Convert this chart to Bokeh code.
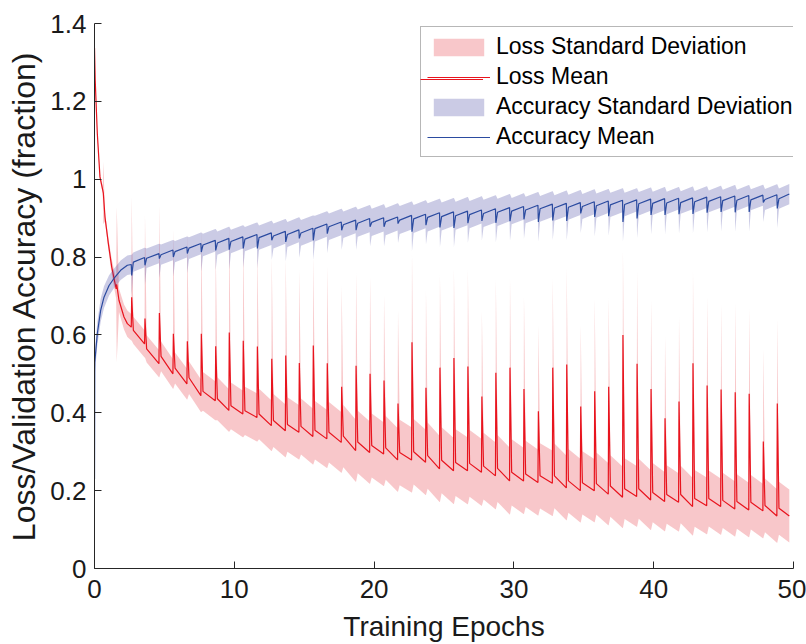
from bokeh.plotting import figure
from bokeh.models import Range1d, FixedTicker, Legend, LegendItem, ColumnDataSource
from bokeh.embed import file_html
from bokeh.resources import INLINE

# ---------------- data ----------------
# epoch positions of the periodic spikes (start of each new pass)
spike_x = [2.66, 3.61, 4.64, 5.64, 6.64, 7.64, 8.67, 9.64, 10.64, 11.65,
           12.68, 13.68, 14.65, 15.65, 16.65, 17.68, 18.71, 19.71, 20.71, 21.71,
           22.71, 23.71, 24.71, 25.71, 26.71, 27.71, 28.71, 29.72, 30.72, 31.75,
           32.78, 33.78, 34.78, 35.78, 36.78, 37.80, 38.81, 39.81, 40.81, 41.81,
           42.81, 43.82, 44.82, 45.83, 46.83, 47.84, 48.84]
end_x = 49.7

# loss: initial descent
loss_early_x = [0.0, 0.05, 0.2, 0.39, 0.59, 0.63, 0.75, 0.99, 1.23, 1.55, 1.59, 1.75, 2.11, 2.35]
loss_early_y = [1.337, 1.255, 1.118, 1.006, 0.972, 0.965, 0.903, 0.835, 0.775, 0.718, 0.73, 0.689, 0.646, 0.629]
loss_early_std = [0.004, 0.005, 0.006, 0.008, 0.01, 0.08, 0.012, 0.015, 0.02, 0.025, 0.2, 0.03, 0.032, 0.034]
# loss: level just before each spike, spike peak, level just after spike
loss_pre = [0.620, 0.577, 0.526, 0.500, 0.474, 0.444, 0.431, 0.406, 0.397, 0.388,
            0.367, 0.354, 0.350, 0.339, 0.333, 0.324, 0.303, 0.298, 0.294, 0.279,
            0.279, 0.273, 0.256, 0.251, 0.251, 0.247, 0.238, 0.225, 0.225, 0.221,
            0.219, 0.207, 0.200, 0.200, 0.191, 0.183, 0.185, 0.176, 0.172, 0.170,
            0.159, 0.161, 0.159, 0.153, 0.150, 0.148, 0.135]
loss_peak = [0.697, 0.642, 0.656, 0.603, 0.584, 0.603, 0.571, 0.606, 0.585, 0.570,
             0.539, 0.547, 0.528, 0.573, 0.527, 0.467, 0.521, 0.500, 0.483, 0.424,
             0.581, 0.464, 0.516, 0.541, 0.519, 0.442, 0.503, 0.516, 0.461, 0.404,
             0.516, 0.524, 0.416, 0.455, 0.467, 0.600, 0.526, 0.461, 0.386, 0.429,
             0.527, 0.470, 0.460, 0.453, 0.449, 0.326, 0.424]
loss_post = [0.612, 0.564, 0.545, 0.515, 0.490, 0.455, 0.436, 0.418, 0.405, 0.397,
             0.380, 0.370, 0.365, 0.355, 0.350, 0.340, 0.325, 0.316, 0.310, 0.298,
             0.300, 0.290, 0.278, 0.272, 0.270, 0.263, 0.257, 0.247, 0.243, 0.238,
             0.238, 0.225, 0.220, 0.218, 0.212, 0.205, 0.205, 0.195, 0.190, 0.190,
             0.180, 0.180, 0.175, 0.172, 0.170, 0.162, 0.155]
loss_end = 0.135
loss_std = [0.035, 0.035, 0.038, 0.040, 0.042, 0.050, 0.055, 0.060, 0.062, 0.065,
            0.068, 0.070, 0.072, 0.075, 0.078, 0.080, 0.080, 0.082, 0.082, 0.084,
            0.084, 0.085, 0.085, 0.086, 0.086, 0.086, 0.086, 0.085, 0.085, 0.084,
            0.083, 0.082, 0.081, 0.080, 0.079, 0.078, 0.077, 0.076, 0.075, 0.074,
            0.073, 0.072, 0.071, 0.070, 0.070, 0.069, 0.068]
loss_spike_std = [0.26, 0.27, 0.28, 0.27, 0.28, 0.27, 0.26, 0.28, 0.27, 0.26,
                  0.26, 0.25, 0.24, 0.23, 0.25, 0.26, 0.24, 0.25, 0.22, 0.24,
                  0.23, 0.25, 0.24, 0.23, 0.25, 0.22, 0.24, 0.23, 0.24, 0.22,
                  0.23, 0.25, 0.21, 0.24, 0.23, 0.22, 0.24, 0.23, 0.21, 0.22,
                  0.24, 0.23, 0.22, 0.23, 0.22, 0.24, 0.22]

# accuracy: initial rise
acc_early_x = [0.0, 0.02, 0.2, 0.44, 0.68, 1.04, 1.39, 1.87, 2.35]
acc_early_y = [0.23, 0.53, 0.603, 0.663, 0.697, 0.727, 0.745, 0.766, 0.779]
acc_early_std = [0.01, 0.03, 0.03, 0.03, 0.028, 0.026, 0.025, 0.025, 0.025]
# accuracy: level before each dip, dip bottom, level just after dip
acc_pre = [0.781, 0.799, 0.809, 0.818, 0.826, 0.835, 0.843, 0.848, 0.852, 0.858,
           0.862, 0.866, 0.870, 0.874, 0.885, 0.890, 0.895, 0.899, 0.901, 0.903,
           0.907, 0.910, 0.914, 0.916, 0.918, 0.921, 0.924, 0.927, 0.930, 0.933,
           0.936, 0.938, 0.940, 0.942, 0.944, 0.946, 0.947, 0.949, 0.950, 0.951,
           0.952, 0.954, 0.955, 0.957, 0.958, 0.959, 0.960]
acc_dip = [0.753, 0.779, 0.796, 0.800, 0.809, 0.813, 0.817, 0.819, 0.822, 0.822,
           0.843, 0.839, 0.848, 0.843, 0.860, 0.869, 0.869, 0.878, 0.878, 0.886,
           0.865, 0.882, 0.876, 0.875, 0.887, 0.893, 0.888, 0.892, 0.897, 0.890,
           0.894, 0.893, 0.912, 0.903, 0.905, 0.890, 0.899, 0.908, 0.908, 0.910,
           0.911, 0.914, 0.916, 0.915, 0.916, 0.940, 0.925]
acc_post = [0.787, 0.797, 0.806, 0.814, 0.823, 0.831, 0.836, 0.840, 0.846, 0.850,
            0.854, 0.858, 0.862, 0.873, 0.878, 0.883, 0.887, 0.889, 0.891, 0.895,
            0.898, 0.902, 0.904, 0.906, 0.909, 0.912, 0.915, 0.918, 0.921, 0.924,
            0.926, 0.928, 0.930, 0.932, 0.934, 0.935, 0.937, 0.938, 0.939, 0.940,
            0.942, 0.943, 0.945, 0.946, 0.947, 0.948, 0.950]
acc_end = 0.962
acc_std = [0.025, 0.025, 0.026, 0.027, 0.028, 0.029, 0.030, 0.030, 0.031, 0.031,
           0.032, 0.032, 0.033, 0.033, 0.034, 0.034, 0.035, 0.035, 0.035, 0.036,
           0.036, 0.036, 0.036, 0.036, 0.035, 0.035, 0.035, 0.034, 0.034, 0.033,
           0.033, 0.032, 0.032, 0.031, 0.031, 0.030, 0.030, 0.030, 0.029, 0.029,
           0.028, 0.028, 0.028, 0.027, 0.027, 0.027, 0.026]
acc_dip_std = [0.05] * len(spike_x)

x_ticks = [0, 10, 20, 30, 40, 50]
y_ticks = [0, 0.2, 0.4, 0.6, 0.8, 1, 1.2, 1.4]
y_tick_labels = ["0", "0.2", "0.4", "0.6", "0.8", "1", "1.2", "1.4"]

legend_labels = ["Loss Standard Deviation", "Loss Mean",
                 "Accuracy Standard Deviation", "Accuracy Mean"]

# ---------------- build series ----------------
def build(early_x, early_y, early_s, pre, spike, post, std, spike_std, end_y, is_loss):
    xs, ys, lo, hi = [], [], [], []
    for x, y, s in zip(early_x, early_y, early_s):
        xs.append(x); ys.append(y); lo.append(y - s); hi.append(y + s)
    prev_std = early_s[-1]
    for k, sx in enumerate(spike_x):
        # just before the spike
        xs.append(sx - 0.03); ys.append(pre[k])
        lo.append(pre[k] - prev_std); hi.append(pre[k] + prev_std)
        # spike / dip
        xs.append(sx); ys.append(spike[k])
        if is_loss:
            lo.append(pre[k] - prev_std); hi.append(spike[k] + spike_std[k])
        else:
            lo.append(spike[k] - spike_std[k]); hi.append(pre[k] + prev_std)
        # right after
        xs.append(sx + 0.12); ys.append(post[k])
        lo.append(post[k] - std[k]); hi.append(post[k] + std[k])
        prev_std = std[k]
    xs.append(end_x); ys.append(end_y)
    lo.append(end_y - prev_std); hi.append(end_y + prev_std)
    return ColumnDataSource(dict(x=xs, y=ys, lo=lo, hi=hi))

loss_src = build(loss_early_x, loss_early_y, loss_early_std, loss_pre, loss_peak,
                 loss_post, loss_std, loss_spike_std, loss_end, True)
acc_src = build(acc_early_x, acc_early_y, acc_early_std, acc_pre, acc_dip,
                acc_post, acc_std, acc_dip_std, acc_end, False)

FONT = "Liberation Sans"
TXT = "#1a1a1a"
AX = "#262626"
RED = "#e8141e"
BLUE = "#2b4ba0"

p = figure(width=806, height=644, x_range=Range1d(0, 50), y_range=Range1d(0, 1.4),
           output_backend="svg", toolbar_location=None,
           min_border_left=94, min_border_right=13, min_border_top=23, min_border_bottom=76,
           outline_line_color=None, background_fill_color="white", border_fill_color="white")
p.xgrid.visible = False
p.ygrid.visible = False

r_ls = p.varea(x="x", y1="lo", y2="hi", source=loss_src, fill_color="#df000e", fill_alpha=0.22)
r_lm = p.line(x="x", y="y", source=loss_src, line_color=RED, line_alpha=1.0, line_width=1.2)
r_as = p.varea(x="x", y1="lo", y2="hi", source=acc_src, fill_color="#333399", fill_alpha=0.255)
r_am = p.line(x="x", y="y", source=acc_src, line_color=BLUE, line_alpha=1.0, line_width=1.2)

for ax in (p.xaxis[0], p.yaxis[0]):
    ax.axis_line_color = AX
    ax.major_tick_line_color = AX
    ax.major_tick_in = 7
    ax.major_tick_out = 0
    ax.minor_tick_line_color = None
    ax.major_label_text_font = FONT
    ax.major_label_text_font_size = "26px"
    ax.major_label_text_color = TXT
    ax.axis_label_text_font = FONT
    ax.axis_label_text_font_style = "normal"
    ax.axis_label_text_color = TXT

p.xaxis[0].ticker = FixedTicker(ticks=x_ticks)
p.xaxis[0].major_label_standoff = 11
p.xaxis[0].axis_label = "Training Epochs"
p.xaxis[0].axis_label_text_font_size = "28px"
p.xaxis[0].axis_label_standoff = 10

p.yaxis[0].ticker = FixedTicker(ticks=y_ticks)
p.yaxis[0].major_label_overrides = dict(zip(y_ticks, y_tick_labels))
p.yaxis[0].major_label_standoff = 8
p.yaxis[0].axis_label = "Loss/Validation Accuracy (fraction)"
p.yaxis[0].axis_label_text_font_size = "32px"
p.yaxis[0].axis_label_standoff = 5

common = dict(orientation="vertical", padding=6, spacing=3, margin=0,
              glyph_width=63, glyph_height=22, label_height=27, label_standoff=6,
              label_text_font=FONT, label_text_font_size="23px", label_text_color="black")

legend = Legend(items=[LegendItem(label=legend_labels[0], renderers=[r_ls]),
                       LegendItem(label=legend_labels[1], renderers=[r_lm]),
                       LegendItem(label=legend_labels[2], renderers=[r_as]),
                       LegendItem(label=legend_labels[3], renderers=[r_am])],
                location=(326, 411),
                border_line_color="#707070", border_line_width=1,
                background_fill_color="white", background_fill_alpha=1, **common)
p.add_layout(legend)

# second pass over the "Loss Mean" key so its short line is always drawn in red
legend_fix = Legend(items=[LegendItem(label=" ", renderers=[r_lm])],
                    location=(326, 476), border_line_color=None,
                    background_fill_alpha=0, **common)
p.add_layout(legend_fix)

open("out.html", "w").write(file_html(p, INLINE))
